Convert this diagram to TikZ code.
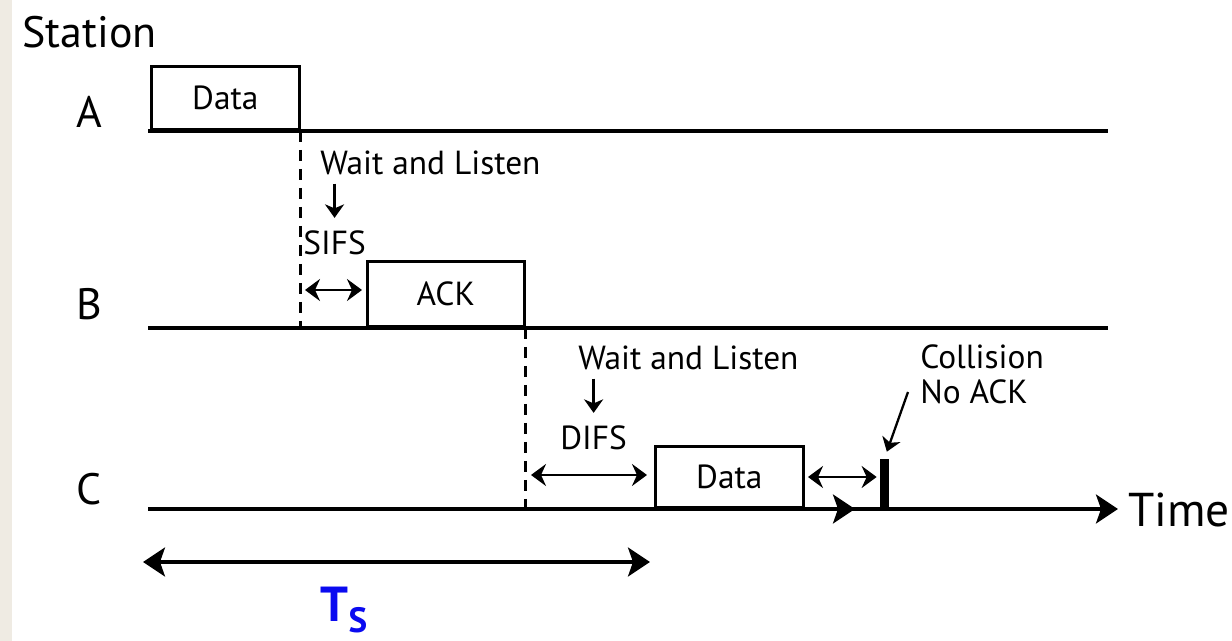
\documentclass[tikz,border=0pt]{standalone}
\usepackage{fontspec}
\setmainfont{PT Sans}
\usepackage{tikz}
\usetikzlibrary{arrows.meta}
\definecolor{tsblue}{HTML}{0A0AF0}
\definecolor{edgebeige}{HTML}{EFEBE3}

\begin{document}
\begin{tikzpicture}[
    x=0.02cm, y=-0.02cm,
    every node/.style={inner sep=0pt, font=\fontsize{19}{20}\selectfont},
    station/.style={font=\fontsize{25}{28}\selectfont},
    frame/.style={draw, line width=1.5pt, anchor=south west},
    tline/.style={line width=1.9pt},
    gap/.style={line width=1.5pt, dash pattern=on 0.22cm off 0.16cm},
    span/.style={line width=1.7pt, >={Stealth[length=0.3cm, width=0.44cm, inset=0.1cm]}, <->},
    hint/.style={line width=1.3pt, >={Stealth[length=0.27cm, width=0.38cm, inset=0.08cm]}, ->},
    big/.style={>={Stealth[length=0.44cm, width=0.58cm, inset=0.1cm]}}
]
\useasboundingbox (0,0) rectangle (1232,641);
\fill[edgebeige] (0,0) rectangle (12,641);

\node[station, anchor=base west] (station) at (22,48) {Station};
\node[station, anchor=base] (la) at (89,128) {A};
\node[station, anchor=base] (lb) at (89,320) {B};
\node[station, anchor=base] (lc) at (89,505) {C};

\coordinate (a0) at (148,131);
\coordinate (a1) at (1108,131);
\coordinate (b0) at (148,328);
\coordinate (b1) at (1108,328);
\coordinate (c0) at (148,509);
\coordinate (c1) at (1118,509);
\coordinate (cmid) at (855,509);

\node[frame, minimum width=2.96cm, minimum height=1.26cm] (dataA) at (150,131) {Data};
\node[frame, minimum width=3.14cm, minimum height=1.3cm] (ack) at (366,328) {ACK};
\node[frame, minimum width=2.96cm, minimum height=1.22cm] (dataC) at (654,509) {Data};
\node[fill, minimum width=0.18cm, minimum height=1cm, anchor=south] (bar) at (884.5,509) {};

\draw[tline] (a0) -- (a1);
\draw[tline] (b0) -- (b1);
\draw[tline, big, ->] (c0) -- (c1);
\draw[tline, big, ->] (c0) -- (cmid);

\coordinate (dashB) at (dataA.south east |- b0);
\coordinate (dashC) at (ack.south east |- c0);
\draw[gap] (dataA.south east) -- (dashB);
\draw[gap] (ack.south east) -- (dashC);

\node[anchor=base west] (wait1) at (320,175) {Wait and Listen};
\node[anchor=base west] (sifs) at (303,255) {SIFS};
\draw[hint, shorten <=0.16cm, shorten >=0.26cm] (wait1.south -| sifs.north) -- (sifs.north);
\coordinate (sifsL) at (305,290);
\draw[span, shorten >=0.08cm] (sifsL) -- (ack.west |- sifsL);

\node[anchor=base west] (wait2) at (578,370) {Wait and Listen};
\node[anchor=base west] (difs) at (560,450) {DIFS};
\draw[hint, shorten <=0.16cm, shorten >=0.26cm] (wait2.south -| difs.north) -- (difs.north);
\coordinate (difsL) at (531,475);
\draw[span, shorten >=0.14cm] (difsL) -- (dataC.west |- difsL);

\node[anchor=north west, align=left] (coll) at (920,344) {Collision\\No ACK};
\coordinate (collTip) at (908,392);
\draw[hint, shorten >=0.14cm] (collTip) -- (bar.north);
\coordinate (backL) at (808,477);
\draw[span, shorten >=0.06cm] (backL) -- (bar.west |- backL);

\node[anchor=base west, font=\fontsize{27}{30}\selectfont] (time) at (1128,527) {Time};

\coordinate (tsL) at (143,562);
\coordinate (tsR) at (650,562);
\draw[tline, big, <->] (tsL) -- (tsR);
\node[anchor=base, text=tsblue, font=\fontsize{28}{30}\selectfont\bfseries] (ts) at (344,622) {T\raisebox{-6pt}{\fontsize{20}{20}\selectfont S}};
\end{tikzpicture}
\end{document}
